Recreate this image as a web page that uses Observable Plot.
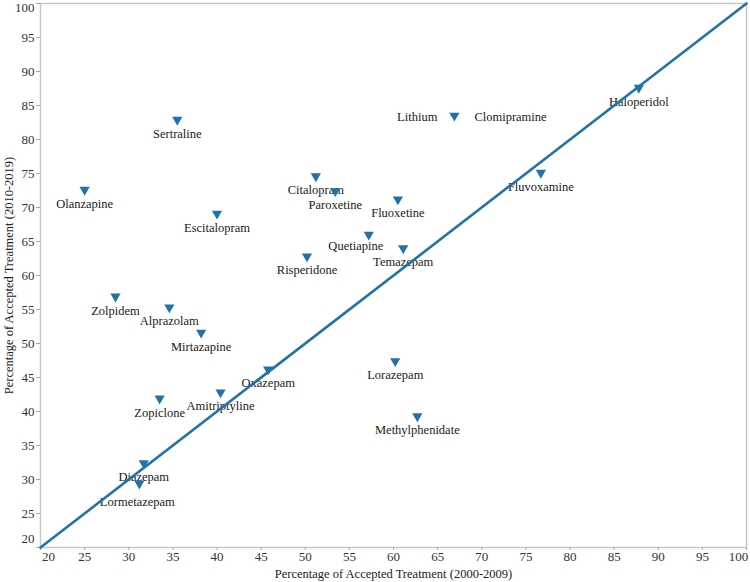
<!DOCTYPE html>
<html><head><meta charset="utf-8">
<script src="https://cdn.jsdelivr.net/npm/d3@7"></script>
<script src="https://cdn.jsdelivr.net/npm/@observablehq/plot@0.6"></script>
<style>html,body{margin:0;padding:0;background:#fff}</style>
</head><body><div id="chart"></div>
<script>
const drugs = ["Sertraline","Olanzapine","Escitalopram","Citalopram","Paroxetine","Risperidone","Quetiapine","Fluoxetine","Temazepam","Lithium","Clomipramine","Haloperidol","Fluvoxamine","Zolpidem","Alprazolam","Mirtazapine","Oxazepam","Amitriptyline","Zopiclone","Diazepam","Lormetazepam","Lorazepam","Methylphenidate"];
const accepted2000s = [35.5,25.0,40.0,51.2,53.4,50.2,57.2,60.5,61.1,66.9,66.9,87.8,76.7,28.5,34.6,38.2,45.8,40.4,33.5,31.7,31.2,60.2,62.7];
const accepted2010s = [82.9,72.6,69.1,74.6,72.4,62.8,66.0,71.2,64.0,83.5,83.5,87.6,75.1,56.9,55.3,51.6,46.2,42.8,41.9,32.4,29.4,47.4,39.3];
const tickValues = [20,25,30,35,40,45,50,55,60,65,70,75,80,85,90,95,100];
const axisDomain = [20, 100];
const xTitle = "Percentage of Accepted Treatment (2000-2009)";
const yTitle = "Percentage of Accepted Treatment (2010-2019)";

const data = drugs.map((d, i) => ({drug: d, x: accepted2000s[i], y: accepted2010s[i]}));
const blue = "#2272a8";
const serif = "'Liberation Serif', 'DejaVu Serif', serif";
const first = axisDomain[0], last = axisDomain[1];
const special = new Set(["Lithium", "Clomipramine", "Quetiapine", "Lormetazepam"]);
const tickFont = {fontSize: 13, fill: "#333", fontFamily: serif};
const labelText = {x: "x", y: "y", text: "drug", fontSize: 12.5, fill: "#1a1a1a", fontFamily: serif};
// edge tick labels nudged inward, as in the original
const yNudge = v => v === first ? -9 : v === last ? 4 : 0;
const xNudge = v => v === first ? 8 : v === last ? -8 : 0;

const chart = Plot.plot({
  width: 750, height: 582,
  marginLeft: 40, marginRight: 4, marginTop: 3, marginBottom: 35,
  style: {fontFamily: serif, background: "#fff"},
  x: {domain: axisDomain, axis: null},
  y: {domain: axisDomain, axis: null},
  marks: [
    Plot.frame({stroke: "#c8c8c8", strokeWidth: 1.5}),
    Plot.axisY(tickValues, {tickSize: 4, tickFormat: () => "", stroke: "#aaa", label: null}),
    Plot.axisX(tickValues, {tickSize: 3, tickFormat: () => "", stroke: "#aaa", label: null}),
    ...tickValues.map(v => Plot.text([v], {...tickFont, y: d => d, text: d => String(d), frameAnchor: "left", textAnchor: "end", lineAnchor: "middle", dx: -6, dy: yNudge(v)})),
    ...tickValues.map(v => Plot.text([v], {...tickFont, x: d => d, text: d => String(d), frameAnchor: "bottom", textAnchor: "middle", lineAnchor: "top", dy: 4, dx: xNudge(v)})),
    Plot.text([xTitle], {frameAnchor: "bottom", textAnchor: "middle", lineAnchor: "middle", dy: 26, text: d => d, fontSize: 12.5, fill: "#222", fontFamily: serif}),
    Plot.text([yTitle], {frameAnchor: "left", textAnchor: "middle", lineAnchor: "middle", dx: -32, rotate: -90, text: d => d, fontSize: 12.5, fill: "#222", fontFamily: serif}),
    Plot.text(data.filter(d => !special.has(d.drug)), {...labelText, dy: 14}),
    Plot.text(data.filter(d => d.drug === "Lithium"), {...labelText, dx: -17, dy: 1, textAnchor: "end"}),
    Plot.text(data.filter(d => d.drug === "Clomipramine"), {...labelText, dx: 20, dy: 1, textAnchor: "start"}),
    Plot.text(data.filter(d => d.drug === "Quetiapine"), {...labelText, dx: -13, dy: 11}),
    Plot.text(data.filter(d => d.drug === "Lormetazepam"), {...labelText, dx: -2, dy: 18}),
    Plot.line(axisDomain, {x: d => d, y: d => d, stroke: blue, strokeWidth: 2.6}),
    Plot.dot(data.filter(d => d.drug !== "Clomipramine"), {x: "x", y: "y", symbol: "triangle", rotate: 180, r: 3.8, fill: blue, stroke: "none"})
  ]
});
document.getElementById("chart").appendChild(chart);
</script>
</body></html>
